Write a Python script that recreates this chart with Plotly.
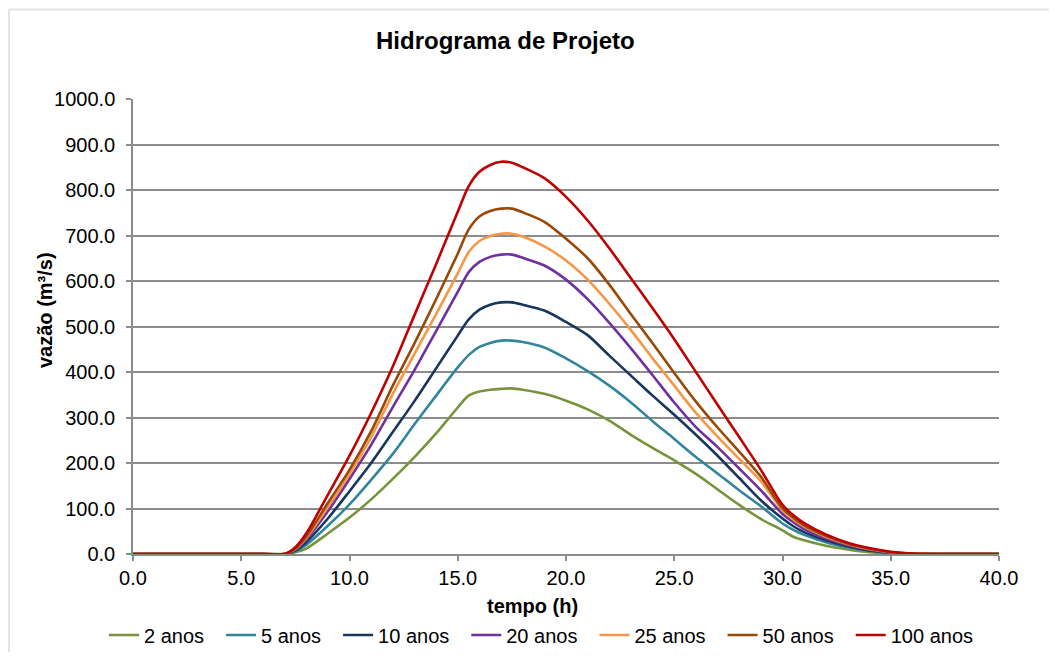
import plotly.graph_objects as go

# time (h)
tempo = [0, 6, 7, 7.5, 8, 9, 10, 11, 12, 13, 14, 15, 15.5, 16, 16.5, 17, 17.5, 18,
         19, 20, 21, 22, 23, 24, 25, 26, 27, 28, 29, 30, 30.5, 31, 32, 33, 34,
         35, 36, 37, 40]

# discharge (m3/s) per return period
q_2 = [0, 0, 0, 4, 12, 45, 80, 120, 165, 213, 265, 322, 348, 357, 361, 363, 364, 361,
       352, 337, 318, 293, 262, 233, 206, 176, 142, 108, 77, 52, 38, 30, 18, 10, 4,
       1, 0, 0, 0]
q_5 = [0, 0, 0, 6, 20, 62, 109, 163, 220, 285, 348, 410, 437, 455, 464, 469, 469, 466,
       454, 430, 402, 370, 333, 292, 253, 213, 177, 140, 105, 67, 53, 42, 26, 15, 7,
       2, 0, 0, 0]
q_10 = [0, 0, 0, 8, 26, 78, 138, 200, 268, 336, 408, 480, 515, 537, 548, 553, 553, 548,
        535, 510, 481, 436, 392, 348, 306, 262, 216, 167, 118, 78, 61, 48, 30, 17, 8,
        3, 0, 0, 0]
q_20 = [0, 0, 0, 10, 32, 94, 165, 240, 323, 404, 490, 576, 619, 642, 653, 658, 658, 651,
        634, 603, 560, 508, 452, 393, 333, 279, 235, 188, 140, 88, 70, 55, 34, 20, 10,
        3, 0.5, 0, 0]
q_25 = [0, 0, 0, 11, 35, 103, 175, 257, 352, 440, 527, 617, 663, 688, 699, 704, 704, 698,
        676, 645, 603, 550, 492, 430, 370, 310, 258, 209, 160, 96, 76, 60, 38, 22, 11,
        4, 1, 0, 0]
q_50 = [0, 0, 0, 12, 38, 112, 185, 270, 370, 463, 560, 660, 713, 742, 754, 759, 759, 751,
        730, 693, 650, 592, 527, 463, 398, 335, 278, 225, 170, 100, 80, 63, 40, 23, 12,
        4, 1, 0, 0]
q_100 = [0, 0, 0, 15, 45, 130, 216, 310, 412, 525, 637, 752, 808, 840, 855, 862, 860, 850,
         826, 785, 733, 672, 606, 540, 472, 400, 328, 257, 185, 108, 85, 68, 43, 25, 13,
         5, 1, 0, 0]

series_names = ["2 anos", "5 anos", "10 anos", "20 anos", "25 anos", "50 anos", "100 anos"]
series_values = [q_2, q_5, q_10, q_20, q_25, q_50, q_100]
colors = ["#77933C", "#31859C", "#17375E", "#7030A0", "#F79646", "#984807", "#C00000"]

x_ticks = [0, 5, 10, 15, 20, 25, 30, 35, 40]
y_ticks = [0, 100, 200, 300, 400, 500, 600, 700, 800, 900, 1000]

FONT = "Liberation Sans, Arial, sans-serif"
GRID = "#8c8c8c"

# page has an 8px body margin: size the figure to fit inside the window
OFF = 8
W, H = 1041, 644
L, T = 125, 91
pw, ph = 866, 455
R = W - L - pw
B = H - T - ph


def px(x):
    """page pixel x -> paper coordinate"""
    return (x - OFF - L) / pw


def py(y):
    """page pixel y -> paper coordinate"""
    return (T + ph - (y - OFF)) / ph


def text_w(s, size=20):
    widths = {"a": 0.556, "n": 0.556, "o": 0.556, "s": 0.5, " ": 0.278}
    return sum(widths.get(c, 0.556) for c in s) * size


fig = go.Figure()
for name, vals, col in zip(series_names, series_values, colors):
    fig.add_trace(go.Scatter(x=tempo, y=vals, mode="lines", name=name,
                             line=dict(color=col, width=2.6, shape="spline", smoothing=0.8),
                             legendwidth=text_w(name) + 12))

fig.update_layout(
    width=W, height=H,
    margin=dict(l=L, r=R, t=T, b=B, autoexpand=False),
    paper_bgcolor="white", plot_bgcolor="white",
    font=dict(family=FONT, size=20, color="#000000"),
    showlegend=True,
    legend=dict(orientation="h", x=px(104), xanchor="left", y=py(635), yanchor="middle",
                font=dict(size=20), itemwidth=30, tracegroupgap=0,
                bgcolor="rgba(0,0,0,0)"),
    xaxis=dict(range=[0, 40], tickvals=x_ticks, ticktext=[f"{v:.1f}" for v in x_ticks],
               showgrid=False, zeroline=False, showline=True, linecolor=GRID, linewidth=1.5,
               ticks="outside", ticklen=5, tickcolor=GRID, tickwidth=1.5,
               tickfont=dict(size=20), ticklabelstandoff=0, fixedrange=True),
    yaxis=dict(range=[0, 1000], tickvals=y_ticks, ticktext=[f"{v:.1f}" for v in y_ticks],
               showgrid=True, gridcolor=GRID, gridwidth=1.5, zeroline=False,
               showline=True, linecolor=GRID, linewidth=1.5,
               ticks="outside", ticklen=5, tickcolor=GRID, tickwidth=1.5,
               tickfont=dict(size=20), ticklabelstandoff=7, fixedrange=True),
    annotations=[
        dict(text="<b>Hidrograma de Projeto</b>", xref="paper", yref="paper",
             x=px(505), y=py(40), xanchor="center", yanchor="middle", showarrow=False,
             font=dict(size=24, family=FONT)),
        dict(text="<b>tempo (h)</b>", xref="paper", yref="paper",
             x=px(532), y=py(606), xanchor="center", yanchor="middle", showarrow=False,
             font=dict(size=20, family=FONT)),
        dict(text="<b>vazão (m³/s)</b>", xref="paper", yref="paper",
             x=px(45), y=py(310), xanchor="center", yanchor="middle", showarrow=False,
             textangle=-90, font=dict(size=20, family=FONT)),
    ],
    shapes=[
        dict(type="line", xref="paper", yref="paper", x0=px(9), x1=px(9), y0=py(9.5), y1=py(OFF + H),
             line=dict(color="#e3e3e3", width=2)),
        dict(type="line", xref="paper", yref="paper", x0=px(9), x1=px(OFF + W), y0=py(9.5), y1=py(9.5),
             line=dict(color="#e3e3e3", width=2)),
    ],
)

fig.write_html("out.html")
